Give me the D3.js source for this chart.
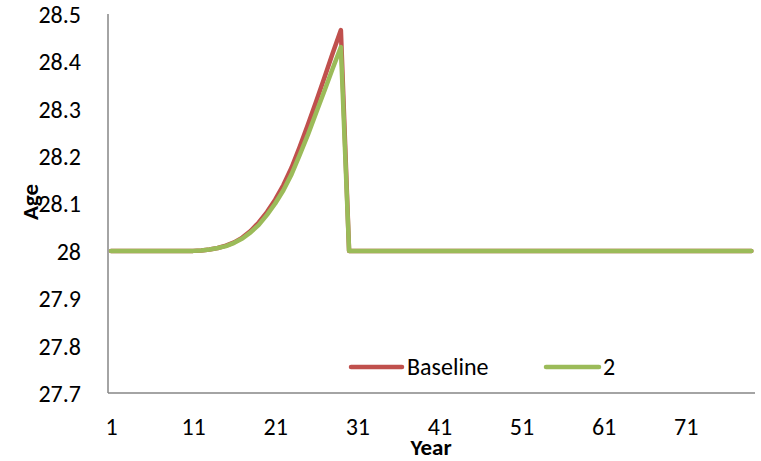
<!DOCTYPE html>
<html>
<head>
<meta charset="utf-8">
<script src="https://cdn.jsdelivr.net/npm/d3@7"></script>
<style>
  html, body { margin: 0; padding: 0; background: #fff; }
  svg { display: block; }
  text { font-family: Carlito, Calibri, Lato, "Open Sans", sans-serif; fill: #000; }
</style>
</head>
<body>
<svg id="chart" width="761" height="461"></svg>
<script>
// Years 1..79
const years = d3.range(1, 80);

// Mean age, baseline scenario
const baselineAge = [
  28, 28, 28, 28, 28, 28, 28, 28, 28, 28,
  28.000, 28.001, 28.003, 28.006, 28.011, 28.018, 28.028, 28.042, 28.060, 28.082,
  28.108, 28.139, 28.176, 28.220, 28.267, 28.316, 28.366, 28.417, 28.466, 28,
  28, 28, 28, 28, 28, 28, 28, 28, 28, 28,
  28, 28, 28, 28, 28, 28, 28, 28, 28, 28,
  28, 28, 28, 28, 28, 28, 28, 28, 28, 28,
  28, 28, 28, 28, 28, 28, 28, 28, 28, 28,
  28, 28, 28, 28, 28, 28, 28, 28, 28
];

// Mean age, scenario 2
const scenario2Age = [
  28, 28, 28, 28, 28, 28, 28, 28, 28, 28,
  28.000, 28.001, 28.003, 28.006, 28.010, 28.017, 28.026, 28.039, 28.055, 28.076,
  28.100, 28.128, 28.162, 28.203, 28.246, 28.292, 28.338, 28.385, 28.430, 28,
  28, 28, 28, 28, 28, 28, 28, 28, 28, 28,
  28, 28, 28, 28, 28, 28, 28, 28, 28, 28,
  28, 28, 28, 28, 28, 28, 28, 28, 28, 28,
  28, 28, 28, 28, 28, 28, 28, 28, 28, 28,
  28, 28, 28, 28, 28, 28, 28, 28, 28
];

const seriesNames = ["Baseline", "2"];
const seriesColors = ["#C0504D", "#9BBB59"];
const yTicks = [27.7, 27.8, 27.9, 28, 28.1, 28.2, 28.3, 28.4, 28.5];
const xTickLabels = [1, 11, 21, 31, 41, 51, 61, 71];

const svg = d3.select("#chart");
const plot = { left: 108, right: 755, top: 14, bottom: 393 };
const fontStack = "Carlito, Calibri, Lato, 'Open Sans', sans-serif";
const fontSize = 24;

// Category axis: each year sits in the middle of its slot
const x = d3.scaleLinear()
  .domain([1, 79])
  .range([plot.left + 3, plot.left + 3 + 78 * 8.21]);

const y = d3.scaleLinear()
  .domain([27.7, 28.5])
  .range([plot.bottom, plot.top]);

// Axis lines
const axisColor = "#868686";
svg.append("line")
  .attr("x1", plot.left).attr("x2", plot.left)
  .attr("y1", plot.top).attr("y2", plot.bottom)
  .attr("stroke", axisColor).attr("stroke-width", 1.5);
svg.append("line")
  .attr("x1", plot.left).attr("x2", plot.right)
  .attr("y1", plot.bottom).attr("y2", plot.bottom)
  .attr("stroke", axisColor).attr("stroke-width", 1.5);

// Y tick labels
const yAxis = d3.axisLeft(y)
  .tickValues(yTicks)
  .tickSize(0)
  .tickPadding(0)
  .tickFormat(d => d3.format("")(+d.toFixed(1)));
const gy = svg.append("g")
  .attr("transform", `translate(${plot.left - 27},0)`)
  .call(yAxis);
gy.select(".domain").remove();
gy.selectAll("text")
  .attr("font-size", fontSize)
  .attr("dy", "0.35em")
  .style("font-family", fontStack)
  .attr("fill", "#000");

// X tick labels
const xAxis = d3.axisBottom(x)
  .tickValues(xTickLabels)
  .tickSize(0)
  .tickPadding(0)
  .tickFormat(d3.format("d"));
const gx = svg.append("g")
  .attr("transform", `translate(0,${plot.bottom + 34})`)
  .call(xAxis);
gx.select(".domain").remove();
gx.selectAll("text")
  .attr("font-size", fontSize)
  .attr("dy", "0.35em")
  .style("font-family", fontStack)
  .attr("fill", "#000");

// Axis titles
svg.append("text")
  .attr("x", 431).attr("y", 455)
  .attr("text-anchor", "middle")
  .attr("font-size", fontSize - 1)
  .attr("font-weight", "bold")
  .text("Year");
svg.append("text")
  .attr("transform", "translate(38,202) rotate(-90)")
  .attr("text-anchor", "middle")
  .attr("font-size", fontSize - 1)
  .attr("font-weight", "bold")
  .text("Age");

// Series lines
const line = d3.line()
  .x((d, i) => x(years[i]))
  .y(d => y(d));

[baselineAge, scenario2Age].forEach((vals, k) => {
  svg.append("path")
    .datum(vals)
    .attr("d", line)
    .attr("fill", "none")
    .attr("stroke", seriesColors[k])
    .attr("stroke-width", 4.5)
    .attr("stroke-linejoin", "round")
    .attr("stroke-linecap", "round");
});

// Legend
const legendItems = [
  { x1: 351, x2: 402, tx: 407 },
  { x1: 546, x2: 599, tx: 603 }
];
const legendY = 367;
legendItems.forEach((it, k) => {
  svg.append("line")
    .attr("x1", it.x1).attr("x2", it.x2)
    .attr("y1", legendY).attr("y2", legendY)
    .attr("stroke", seriesColors[k])
    .attr("stroke-width", 4.5)
    .attr("stroke-linecap", "round");
  svg.append("text")
    .attr("x", it.tx).attr("y", legendY)
    .attr("dy", "0.35em")
    .attr("font-size", fontSize)
    .text(seriesNames[k]);
});
</script>
</body>
</html>
